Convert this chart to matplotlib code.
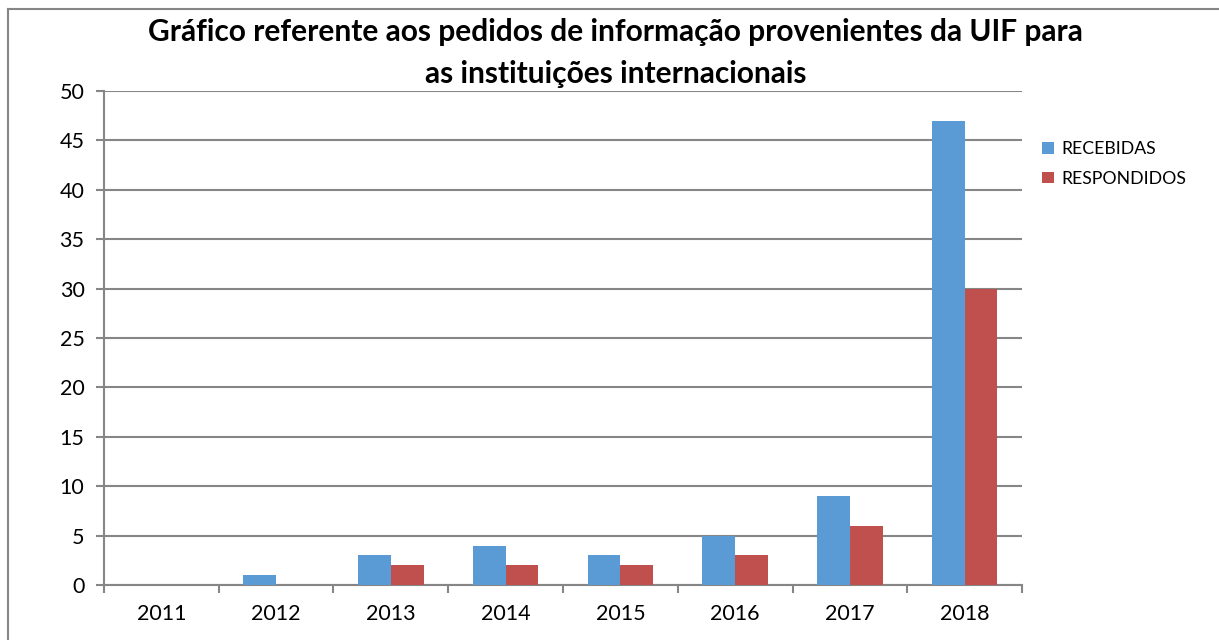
import matplotlib.pyplot as plt
import numpy as np
from matplotlib.lines import Line2D

anos = ['2011', '2012', '2013', '2014', '2015', '2016', '2017', '2018']
recebidas = [0, 1, 3, 4, 3, 5, 9, 47]
respondidos = [0, 0, 2, 2, 2, 3, 6, 30]

plt.rcParams['font.family'] = ['Lato', 'DejaVu Sans']

fig = plt.figure(figsize=(12.19, 6.4), dpi=100)
ax = fig.add_axes([0.0853, 0.0859, 0.7531, 0.7719])

x = np.arange(len(anos))
w = 1 / 3.5
ax.bar(x - w / 2, recebidas, w, color='#5B9BD5', label='RECEBIDAS', zorder=3)
ax.bar(x + w / 2, respondidos, w, color='#C0504D', label='RESPONDIDOS', zorder=3)

ax.set_xlim(-0.5, len(anos) - 0.5)
ax.set_ylim(0, 50)
ax.set_yticks(range(0, 51, 5))
ax.set_xticks(x)
ax.set_xticklabels(anos)
ax.set_xticks(np.arange(-0.5, len(anos), 1), minor=True)
ax.tick_params(axis='x', which='major', length=0, pad=14, labelsize=15.5)
ax.tick_params(axis='x', which='minor', length=6, width=1.5, color='#868686', direction='out')
ax.tick_params(axis='y', length=6, width=1.5, color='#868686', pad=8, labelsize=15.5)

ax.grid(axis='y', color='#868686', linewidth=1.5, zorder=0)
for s in ['top', 'right']:
    ax.spines[s].set_visible(False)
for s in ['left', 'bottom']:
    ax.spines[s].set_color('#868686')
    ax.spines[s].set_linewidth(1.5)

ax.legend(loc='upper left', bbox_to_anchor=(1.005, 0.93), frameon=False,
          fontsize=12.7, handlelength=0.65, handleheight=0.65, handletextpad=0.4,
          labelspacing=0.75)

fig.text(0.505, 0.917, 'Gráfico referente aos pedidos de informação provenientes da UIF para\nas instituições internacionais',
         ha='center', va='center', fontsize=21.5, fontweight='bold', linespacing=1.6)

# borda do gráfico (só topo e esquerda visíveis)
fig.add_artist(Line2D([8 / 1219, 1], [1 - 9 / 640, 1 - 9 / 640], color='#868686', linewidth=1.5))
fig.add_artist(Line2D([8 / 1219, 8 / 1219], [0, 1 - 9 / 640], color='#868686', linewidth=1.5))

plt.savefig('out.png', dpi=100)
